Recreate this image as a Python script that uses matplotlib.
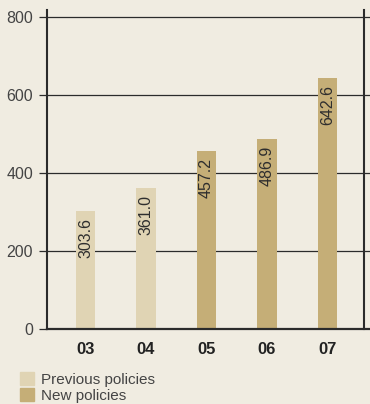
import numpy as np
import matplotlib.pyplot as plt
from matplotlib.patches import Patch

years = ['03', '04', '05', '06', '07']
values = [303.6, 361.0, 457.2, 486.9, 642.6]
is_new = [False, False, True, True, True]
yticks = [0, 200, 400, 600, 800]

bg = '#f0ece1'
c_prev = '#e0d4b4'
c_new = '#c5ae77'
dark = '#2b2b2b'

plt.rcParams['font.family'] = ['Liberation Sans', 'DejaVu Sans']

fig = plt.figure(figsize=(3.70, 4.04), dpi=100, facecolor=bg)
ax = fig.add_axes([47 / 370, 75 / 404, 317 / 370, 319 / 404])
ax.set_facecolor(bg)

x = np.arange(len(years))
colors = [c_new if n else c_prev for n in is_new]
ax.bar(x, values, width=0.32, color=colors, zorder=3)

for xi, v in zip(x, values):
    ax.annotate('%.1f' % v, (xi, v), xytext=(0, -5), textcoords='offset points',
                rotation=90, ha='center', va='top', fontsize=11.5, color='#2e2e2e',
                zorder=4)

# horizontal rules run a little past the right border
for t in yticks[1:]:
    ax.axhline(t, xmin=0, xmax=1.02, color=dark, lw=0.9, zorder=1, clip_on=False)
ax.axhline(0, xmin=0, xmax=1.02, color=dark, lw=1.6, zorder=5, clip_on=False)

ax.set_xlim(-0.636, 4.603)
ax.set_ylim(0, 818)

ax.spines['top'].set_visible(False)
ax.spines['bottom'].set_visible(False)
for s in ['left', 'right']:
    ax.spines[s].set_color(dark)
    ax.spines[s].set_linewidth(1.5)
    ax.spines[s].set_zorder(5)

ax.set_yticks(yticks)
ax.tick_params(axis='y', length=6, width=0.9, color=dark, pad=4,
               labelsize=11.5, labelcolor='#444444')
ax.set_xticks(x)
ax.set_xticklabels(years, fontweight='bold', fontsize=12, color='#222222')
ax.tick_params(axis='x', length=0, pad=9)

handles = [Patch(color=c_prev, label='Previous policies'),
           Patch(color=c_new, label='New policies')]
fig.legend(handles=handles, loc='upper left', bbox_to_anchor=(20 / 370, 1 - 372 / 404),
           frameon=False, fontsize=11, handlelength=0.9, handleheight=0.9,
           handletextpad=0.45, labelspacing=0.12, borderpad=0, borderaxespad=0,
           labelcolor='#444444')

fig.savefig('out.png', dpi=100, facecolor=bg)
